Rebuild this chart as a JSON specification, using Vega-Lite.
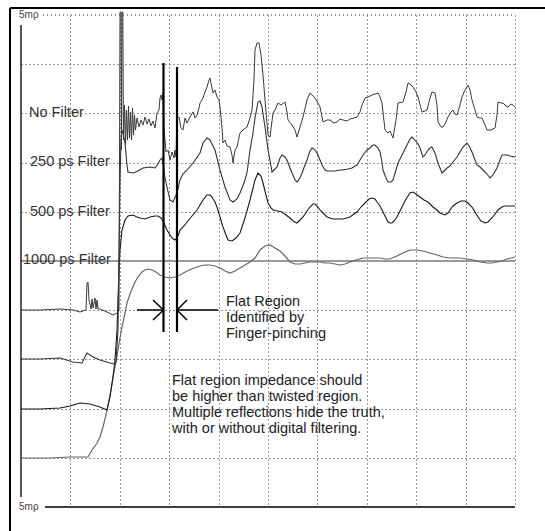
{
"$schema": "https://vega.github.io/schema/vega-lite/v6.json",
"width": 494, "height": 492,
"autosize": {"type": "none"},
"padding": {"left": 21, "top": 15, "right": 30, "bottom": 24},
"background": "white",
"config": {"view": {"stroke": null}, "text": {"font": "Liberation Sans"}},
"datasets": {
"A": [[0,197],[19,197],[39,198],[52,197],[59,195],[65,197],[66,224],[67,225],[68,207],[70,198],[71,208],[72,199],[74,209],[75,198],[76,207],[77,198],[79,198],[86,195],[92,192],[96,194],[98,196],[99,495],[100,495],[100.5,357],[101,495],[101.8,495],[102.5,367],[103.5,402],[104.5,362],[105.5,397],[106.5,367],[107.5,401],[108.5,369],[109.5,395],[110.5,367],[111.5,399],[112.5,372],[113.5,392],[114.5,377],[116,389],[118,380],[120,387],[122,382],[124,390],[126,383],[128,388],[130,381],[132,386],[134,379],[136,394],[138,397],[139,409],[140,412],[141,407],[142,414],[143,377],[144,367],[145,355],[147,357],[149,347],[151,355],[153,349],[154,357],[155,350],[156,389],[158,390],[160,379],[162,377],[164,389],[166,384],[169,390],[172,395],[174,389],[176,392],[178,399],[179,404],[182,409],[184,415],[186,420],[188,427],[189,429],[191,419],[192,414],[194,417],[196,410],[198,407],[199,400],[201,379],[202,364],[204,367],[206,361],[209,360],[211,352],[212,344],[214,357],[216,360],[219,374],[222,377],[226,380],[229,389],[231,397],[233,427],[234,457],[236,464],[238,464],[240,452],[242,432],[244,407],[247,372],[249,370],[252,394],[254,397],[257,404],[260,402],[264,405],[266,395],[267,387],[271,382],[274,377],[276,370],[279,380],[282,390],[286,407],[289,414],[292,411],[294,409],[297,404],[299,400],[302,385],[306,387],[309,387],[313,384],[316,385],[319,388],[322,387],[326,386],[329,388],[333,389],[336,390],[339,395],[341,402],[344,409],[347,410],[351,412],[354,413],[357,414],[359,410],[361,404],[364,377],[367,374],[369,376],[372,369],[375,387],[377,404],[382,405],[385,415],[387,424],[389,423],[392,420],[395,415],[397,410],[401,395],[404,396],[406,397],[409,409],[411,415],[414,414],[416,402],[417,385],[420,380],[422,380],[425,385],[427,390],[430,395],[432,397],[434,393],[436,392],[439,402],[441,410],[444,417],[447,422],[449,417],[451,407],[454,397],[456,390],[459,389],[461,389],[464,382],[466,377],[470,377],[474,379],[476,392],[477,405],[480,404],[482,404],[485,401],[487,400],[490,403],[492,402],[494,400]],
"B": [[0,148],[19,148],[39,149],[52,145],[61,144],[64,150],[66,154],[69,152],[72,150],[79,147],[89,144],[93,143],[95,145],[97,177],[98,257],[99,327],[100,367],[101,377],[102,374],[104,364],[106,342],[107,335],[112,334],[117,336],[122,339],[129,340],[134,339],[137,343],[139,347],[141,349],[142,344],[144,329],[146,320],[149,307],[152,305],[156,314],[159,327],[162,333],[166,337],[172,344],[179,354],[182,364],[186,369],[189,367],[194,357],[199,337],[204,320],[209,307],[212,305],[216,308],[219,314],[223,324],[226,334],[229,357],[232,374],[234,389],[237,405],[239,406],[241,400],[244,380],[247,357],[249,347],[251,335],[253,337],[256,340],[259,349],[261,352],[264,350],[266,347],[269,339],[271,334],[274,327],[276,325],[279,329],[281,334],[284,342],[286,347],[289,356],[291,359],[293,358],[296,354],[299,347],[301,342],[304,337],[306,336],[310,336],[314,336],[319,337],[322,337],[327,338],[331,339],[334,341],[336,342],[339,347],[342,352],[346,357],[349,359],[352,362],[354,362],[357,359],[359,355],[361,345],[362,337],[365,329],[367,325],[370,325],[372,327],[375,337],[377,344],[380,350],[382,354],[385,360],[387,364],[389,368],[391,370],[394,367],[397,363],[399,359],[402,350],[404,352],[407,357],[409,359],[411,360],[414,354],[417,344],[421,334],[424,337],[426,339],[429,341],[432,345],[436,350],[439,355],[442,360],[446,364],[448,361],[451,355],[454,347],[456,342],[459,340],[462,337],[466,333],[469,329],[472,332],[476,339],[479,347],[481,352],[484,352],[486,352],[489,351],[494,350]],
"C": [[0,98],[19,98],[39,99],[49,101],[59,104],[69,103],[79,100],[86,97],[89,110],[92,130],[94,147],[96,177],[97,207],[98,237],[99,257],[101,277],[104,287],[107,291],[112,292],[116,290],[119,289],[124,288],[129,290],[134,291],[137,291],[140,289],[142,286],[146,277],[151,269],[154,267],[157,271],[159,277],[163,281],[166,285],[171,291],[176,297],[182,307],[186,312],[189,312],[191,310],[194,305],[196,300],[199,290],[202,280],[205,272],[207,267],[211,266],[215,269],[219,274],[224,289],[229,307],[232,319],[234,327],[237,334],[240,331],[242,324],[245,312],[247,304],[250,299],[252,297],[257,296],[261,295],[265,292],[269,289],[272,286],[276,284],[279,287],[282,290],[286,296],[289,300],[292,303],[294,303],[297,300],[299,297],[303,293],[306,290],[309,289],[312,288],[317,288],[322,288],[326,289],[329,290],[333,293],[336,295],[340,300],[344,304],[348,308],[351,309],[354,308],[356,305],[359,301],[361,297],[364,291],[367,285],[369,284],[371,284],[374,287],[376,290],[379,296],[382,302],[385,308],[389,314],[392,315],[395,313],[399,310],[403,307],[407,305],[412,300],[416,297],[419,294],[424,292],[427,294],[429,297],[432,301],[436,304],[440,306],[444,306],[447,304],[451,300],[454,295],[457,290],[460,286],[464,284],[467,285],[471,289],[474,293],[477,297],[481,300],[484,301],[489,301],[494,301]],
"D": [[0,49],[29,49],[49,50],[67,50],[71,57],[76,64],[79,70],[82,80],[85,92],[87,102],[90,117],[92,130],[95,145],[97,157],[99,169],[101,180],[104,194],[106,204],[109,213],[111,218],[114,225],[117,230],[121,235],[124,237],[127,238],[131,237],[135,235],[139,232],[144,230],[149,229],[154,230],[159,232],[166,236],[173,239],[179,241],[184,242],[189,242],[194,241],[199,239],[204,236],[209,234],[214,236],[219,239],[224,242],[229,245],[234,249],[239,257],[244,261],[249,262],[254,259],[259,256],[264,251],[269,245],[274,243],[279,243],[284,244],[289,245],[294,245],[299,245],[304,244],[309,244],[314,243],[319,242],[324,243],[329,245],[335,247],[342,249],[347,249],[352,249],[359,249],[364,248],[369,248],[376,251],[382,254],[389,257],[396,257],[402,256],[409,254],[416,252],[422,250],[429,249],[439,249],[446,248],[452,247],[459,245],[466,244],[471,244],[476,245],[481,246],[486,248],[490,249],[494,250]],
"frame": [{"t": -11, "v": -24, "t2": -11, "v2": 499}, {"t": -11, "v": 499, "t2": 524, "v2": 499}],
"axisLines": [{"t": 0, "v": 10, "t2": 0, "v2": 482}, {"t": 24, "v": 0, "t2": 494, "v2": 0}],
"topGrid": [{"t": 22, "v": 492, "t2": 494, "v2": 492}],
"refLine": [{"t": 0, "v": 246, "t2": 494, "v2": 246}],
"cursors": [{"t": 142.5, "v": 175, "t2": 142.5, "v2": 444}, {"t": 156, "v": 175, "t2": 156, "v2": 440}],
"arrows": [{"t": 116, "v": 197, "t2": 142.5, "v2": 197}, {"t": 132, "v": 207, "t2": 142.5, "v2": 197}, {"t": 132, "v": 187, "t2": 142.5, "v2": 197}, {"t": 156, "v": 197, "t2": 197, "v2": 197}, {"t": 156, "v": 197, "t2": 166, "v2": 207}, {"t": 156, "v": 197, "t2": 166, "v2": 187}],
"traceLabels": [{"text": "No Filter", "t": 8, "v": 394}, {"text": "250 ps Filter", "t": 9, "v": 345}, {"text": "500 ps Filter", "t": 9, "v": 295}, {"text": "1000 ps Filter", "t": 2, "v": 247}],
"notes": [{"text": "Flat Region", "t": 205, "v": 205}, {"text": "Identified by", "t": 205, "v": 189}, {"text": "Finger-pinching", "t": 205, "v": 173}, {"text": "Flat region impedance should", "t": 151, "v": 126}, {"text": "be higher than twisted region.", "t": 151, "v": 110}, {"text": "Multiple reflections hide the truth,", "t": 151, "v": 94}, {"text": "with or without digital  filtering.", "t": 151, "v": 78}],
"scaleLabels": [{"text": "5mρ", "t": -2, "v": 492}, {"text": "5mρ", "t": -2, "v": 0}]
},
"layer": [
{"data": {"name": "refLine"}, "mark": {"type": "rule", "color": "#9a9a9a", "strokeWidth": 2},
 "encoding": {
  "x": {"field": "t", "type": "quantitative", "scale": {"domain": [0, 494], "nice": false, "zero": false},
   "axis": {"values": [49.4, 98.8, 148.2, 197.6, 247, 296.4, 345.8, 395.2, 444.6, 494], "grid": true, "gridDash": [1, 3], "gridColor": "#333", "gridWidth": 1, "domain": false, "ticks": false, "labels": false, "title": null}},
  "y": {"field": "v", "type": "quantitative", "scale": {"domain": [0, 492], "nice": false, "zero": false},
   "axis": {"values": [49.2, 98.4, 147.6, 196.8, 295.2, 344.4, 393.6, 442.8], "grid": true, "gridDash": [1, 3], "gridColor": "#333", "gridWidth": 1, "domain": false, "ticks": false, "labels": false, "title": null}},
  "x2": {"field": "t2"}, "y2": {"field": "v2"}}},
{"data": {"name": "topGrid"}, "mark": {"type": "rule", "color": "#333", "strokeWidth": 1, "strokeDash": [1, 3]},
 "encoding": {"x": {"field": "t", "type": "quantitative"}, "y": {"field": "v", "type": "quantitative"}, "x2": {"field": "t2"}, "y2": {"field": "v2"}}},
{"data": {"name": "axisLines"}, "mark": {"type": "rule", "color": "#000", "strokeWidth": 1.3},
 "encoding": {"x": {"field": "t", "type": "quantitative"}, "y": {"field": "v", "type": "quantitative"}, "x2": {"field": "t2"}, "y2": {"field": "v2"}}},
{"data": {"name": "frame"}, "mark": {"type": "rule", "color": "#000", "strokeWidth": 2},
 "encoding": {"x": {"field": "t", "type": "quantitative"}, "y": {"field": "v", "type": "quantitative"}, "x2": {"field": "t2"}, "y2": {"field": "v2"}}},
{"data": {"name": "traceLabels"}, "mark": {"type": "text", "align": "left", "baseline": "middle", "fontSize": 14.5, "color": "#333"},
 "encoding": {"x": {"field": "t", "type": "quantitative"}, "y": {"field": "v", "type": "quantitative"}, "text": {"field": "text"}}},
{"data": {"name": "scaleLabels"}, "mark": {"type": "text", "align": "left", "baseline": "middle", "fontSize": 10, "color": "#444"},
 "encoding": {"x": {"field": "t", "type": "quantitative"}, "y": {"field": "v", "type": "quantitative"}, "text": {"field": "text"}}},
{"data": {"name": "D"}, "mark": {"type": "line", "color": "#666", "strokeWidth": 1.2},
 "encoding": {"x": {"field": "0", "type": "quantitative"}, "y": {"field": "1", "type": "quantitative"}}},
{"data": {"name": "C"}, "mark": {"type": "line", "color": "#1a1a1a", "strokeWidth": 1.1},
 "encoding": {"x": {"field": "0", "type": "quantitative"}, "y": {"field": "1", "type": "quantitative"}}},
{"data": {"name": "B"}, "mark": {"type": "line", "color": "#333", "strokeWidth": 1.1},
 "encoding": {"x": {"field": "0", "type": "quantitative"}, "y": {"field": "1", "type": "quantitative"}}},
{"data": {"name": "A"}, "mark": {"type": "line", "color": "#3a3a3a", "strokeWidth": 1},
 "encoding": {"x": {"field": "0", "type": "quantitative"}, "y": {"field": "1", "type": "quantitative"}}},
{"data": {"name": "cursors"}, "mark": {"type": "rule", "color": "#000", "strokeWidth": 2.2},
 "encoding": {"x": {"field": "t", "type": "quantitative"}, "y": {"field": "v", "type": "quantitative"}, "x2": {"field": "t2"}, "y2": {"field": "v2"}}},
{"data": {"name": "arrows"}, "mark": {"type": "rule", "color": "#000", "strokeWidth": 1.5},
 "encoding": {"x": {"field": "t", "type": "quantitative"}, "y": {"field": "v", "type": "quantitative"}, "x2": {"field": "t2"}, "y2": {"field": "v2"}}},
{"data": {"name": "notes"}, "mark": {"type": "text", "align": "left", "baseline": "middle", "fontSize": 14.5, "color": "#222"},
 "encoding": {"x": {"field": "t", "type": "quantitative"}, "y": {"field": "v", "type": "quantitative"}, "text": {"field": "text"}}}
]
}
